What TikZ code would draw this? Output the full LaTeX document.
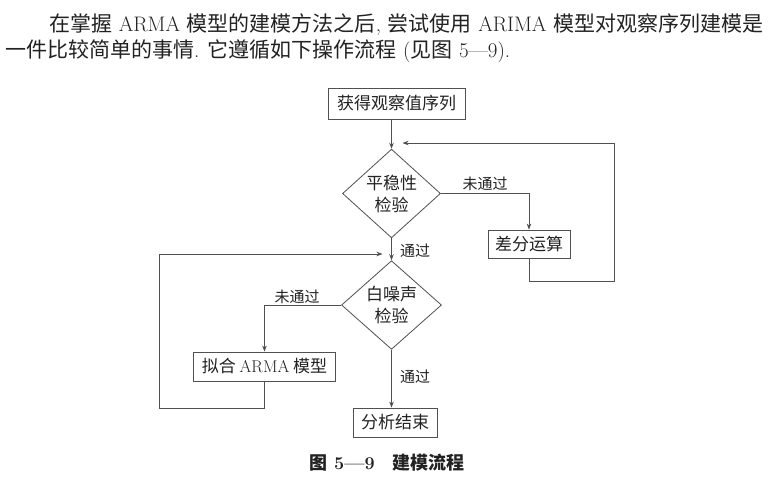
\documentclass[tikz,border=0pt]{standalone}
\usepackage{fontspec}
\newfontfamily\cjk{Noto Sans CJK SC}
\usetikzlibrary{shapes.geometric,arrows.meta}
\definecolor{ink}{HTML}{222222}
\definecolor{lin}{HTML}{505050}
\begin{document}
\begin{tikzpicture}[x=1pt,y=-1pt,
  every node/.style={text=ink},
  boxnode/.style={draw=lin,line width=0.8pt,inner sep=0pt,font=\cjk\fontsize{17pt}{20pt}\selectfont},
  decnode/.style={draw=lin,line width=0.8pt,diamond,inner sep=0pt,align=center,font=\cjk\fontsize{17pt}{22pt}\selectfont},
  lbl/.style={font=\cjk\fontsize{15pt}{18pt}\selectfont,inner sep=0pt},
  arr/.style={draw=lin,line width=0.8pt,-{Stealth[length=6pt,width=4.5pt]}},
  bodytext/.style={anchor=base west,inner sep=0pt,font=\fontsize{21pt}{25pt}\selectfont}]
\useasboundingbox (0,0) rectangle (781,488);
\fill[white] (0,0) rectangle (781,488);

% body text
\node[bodytext] (t1) at (49,31) {\makebox[714pt][s]{{\cjk 在掌握} ARMA {\cjk 模型的建模方法之后}, {\cjk 尝试使用} ARIMA {\cjk 模型对观察序列建模是}}};
\node[bodytext] (t2) at (5,57) {{\cjk 一件比较简单的事情}. {\cjk 它遵循如下操作流程} ({\cjk 见图} 5---9).};

% nodes
\node[boxnode,minimum width=137pt,minimum height=31pt] (b1) at (396.5,103.5) {获得观察值序列};
\node[decnode,minimum width=98pt,minimum height=83pt] (d1) at (391.5,193.5) {平稳性\\检验};
\node[boxnode,minimum width=82pt,minimum height=28pt] (b2) at (529,244) {差分运算};
\node[decnode,minimum width=100pt,minimum height=84pt] (d2) at (391.5,305) {白噪声\\检验};
\node[boxnode,minimum width=142pt,minimum height=29pt] (b3) at (264.5,366.5) {拟合 {\rmfamily ARMA} 模型};
\node[boxnode,minimum width=84pt,minimum height=29pt] (b4) at (395,422.5) {分析结束};

\coordinate (r1) at (614,281);
\coordinate (j1) at (391.5,143);
\coordinate (l1) at (159,408);
\coordinate (j2) at (391.5,254);

% connectors
\draw[arr] (d1.north |- b1.south) -- (d1.north);
\draw[arr] (d1.east) -| (b2.north);
\draw[arr,shorten >=11pt] (b2.south) -- (b2.south |- r1) -- (r1) |- (j1);
\draw[arr] (d1.south) -- (d2.north);
\draw[arr] (d2.west) -| (b3.north);
\draw[arr,shorten >=9pt] (b3.south) -- (b3.south |- l1) -- (l1) |- (j2);
\draw[arr] (d2.south) -- (d2.south |- b4.north);

% labels
\node[lbl] (n1) at (485,184) {未通过};
\node[lbl] (n2) at (415,251) {通过};
\node[lbl] (n3) at (297,297) {未通过};
\node[lbl] (n4) at (415,377) {通过};

% caption
\node[inner sep=0pt,font=\bfseries\fontsize{18pt}{20pt}\selectfont] (cap) at (387,463) {{\cjk 图} 5---9\hspace{18pt}{\cjk 建模流程}};
\end{tikzpicture}
\end{document}
